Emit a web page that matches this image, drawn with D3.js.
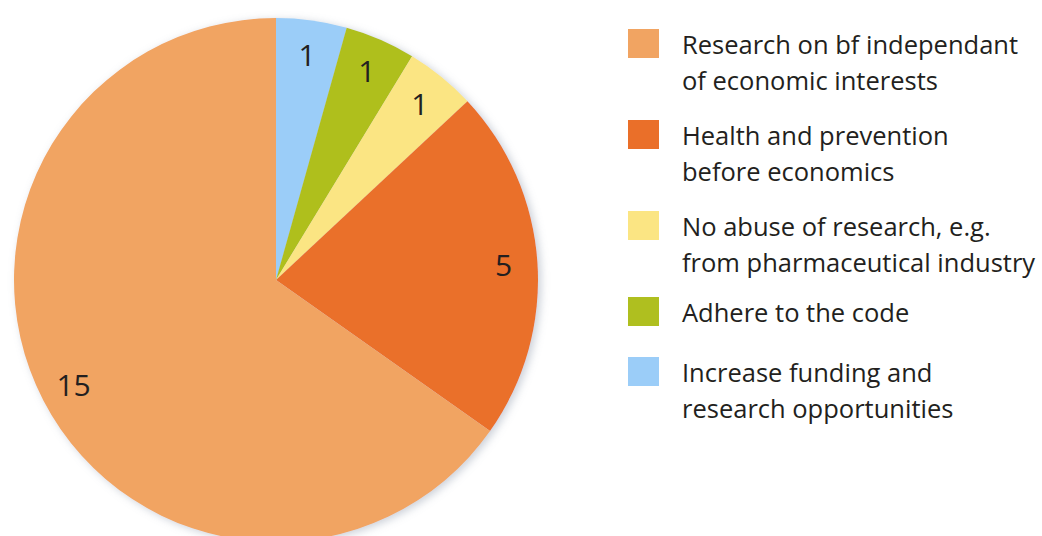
<!DOCTYPE html>
<html>
<head>
<meta charset="utf-8">
<script src="https://cdn.jsdelivr.net/npm/d3@7"></script>
<style>
  html, body { margin: 0; padding: 0; background: #fff; }
  svg { display: block; }
  text { font-family: "Open Sans", Lato, sans-serif; fill: #231f20; }
</style>
</head>
<body>
<svg id="chart" width="1042" height="536"></svg>
<script>
// Slices in clockwise order starting at 12 o'clock
const categories = [
  "Increase funding and research opportunities",
  "Adhere to the code",
  "No abuse of research, e.g. from pharmaceutical industry",
  "Health and prevention before economics",
  "Research on bf independant of economic interests"
];
const values = [1, 1, 1, 5, 15];
const colors = ["#9bcdf8", "#afbf1f", "#fbe583", "#ea6f29", "#f1a462"];

// Legend entries (top to bottom), each split into its printed lines
const legendOrder = [4, 3, 2, 1, 0];
const legendLines = [
  ["Research on bf independant", "of economic interests"],
  ["Health and prevention", "before economics"],
  ["No abuse of research, e.g.", "from pharmaceutical industry"],
  ["Adhere to the code"],
  ["Increase funding and", "research opportunities"]
];

const svg = d3.select("#chart");
const cx = 276, cy = 280, radius = 262;

// soft grey halo under the pie
const defs = svg.append("defs");
const shadow = defs.append("filter").attr("id", "pieShadow")
  .attr("x", "-10%").attr("y", "-10%").attr("width", "120%").attr("height", "120%");
shadow.append("feGaussianBlur").attr("in", "SourceAlpha").attr("stdDeviation", 4).attr("result", "blur");
shadow.append("feOffset").attr("in", "blur").attr("dx", 3).attr("dy", 2).attr("result", "off");
shadow.append("feFlood").attr("flood-color", "#8a95a8").attr("flood-opacity", 0.45);
shadow.append("feComposite").attr("in2", "off").attr("operator", "in").attr("result", "sh");
const merge = shadow.append("feMerge");
merge.append("feMergeNode").attr("in", "sh");
merge.append("feMergeNode").attr("in", "SourceGraphic");

const color = d3.scaleOrdinal().domain(categories).range(colors);

const pie = d3.pie().sort(null).value(d => d.value);
const data = pie(categories.map((c, i) => ({ name: c, value: values[i] })));

const arc = d3.arc().innerRadius(0).outerRadius(radius);
const labelArc = d3.arc().innerRadius(228).outerRadius(228);

const g = svg.append("g").attr("transform", `translate(${cx},${cy})`);

g.append("g").attr("filter", "url(#pieShadow)")
  .selectAll("path")
  .data(data)
  .join("path")
  .attr("d", arc)
  .attr("fill", d => color(d.data.name));

g.selectAll("text.val")
  .data(data)
  .join("text")
  .attr("class", "val")
  .attr("transform", d => `translate(${labelArc.centroid(d)})`)
  .attr("text-anchor", "middle")
  .attr("dominant-baseline", "central")
  .style("font-size", "30px")
  .text(d => d.data.value);

// Legend
const legend = svg.append("g").attr("transform", "translate(628,0)");
const rowTops = [29, 120, 211, 297, 357];
legendOrder.forEach((idx, row) => {
  const item = legend.append("g").attr("transform", `translate(0,${rowTops[row]})`);
  item.append("rect")
    .attr("width", 31).attr("height", 29)
    .attr("fill", color(categories[idx]));
  const t = item.append("text")
    .attr("x", 54).attr("y", 25)
    .style("font-size", "25.5px");
  legendLines[row].forEach((line, li) => {
    t.append("tspan").attr("x", 54).attr("dy", li === 0 ? 0 : 36).text(line);
  });
});
</script>
</body>
</html>
